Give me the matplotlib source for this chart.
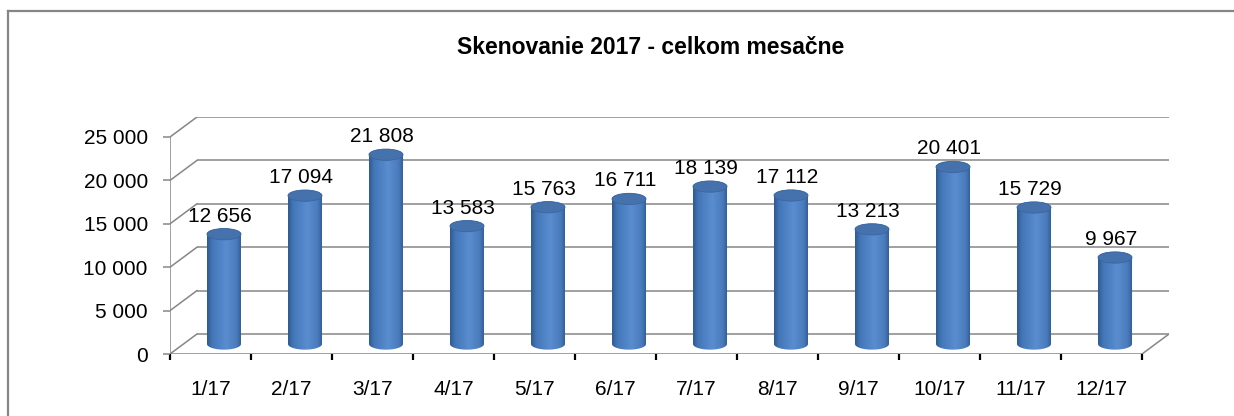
import numpy as np
import matplotlib.pyplot as plt
from matplotlib.patches import Ellipse, Polygon
from matplotlib.colors import LinearSegmentedColormap
from matplotlib.lines import Line2D

# ------------------------------------------------ data ------------------------------------------------
mesiace = ['1/17', '2/17', '3/17', '4/17', '5/17', '6/17', '7/17', '8/17', '9/17', '10/17', '11/17', '12/17']
skeny = [12656, 17094, 21808, 13583, 15763, 16711, 18139, 17112, 13213, 20401, 15729, 9967]
y_ticky = [0, 5000, 10000, 15000, 20000, 25000]
nadpis = 'Skenovanie 2017 - celkom mesačne'

# ------------------------------------------------ styl ------------------------------------------------
plt.rcParams['font.family'] = ['Liberation Sans', 'DejaVu Sans']
SIVA = '#868686'
DX = 0.333      # hlbka 3D v jednotkach kategorii
DY = 2304       # hlbka 3D v jednotkach hodnot
SIRKA = 0.42    # sirka valca
EH = 1300       # vyska elipsy valca

cyl_cmap = LinearSegmentedColormap.from_list(
    'valec', [(0.0, '#2E5A92'), (0.15, '#4477B8'), (0.55, '#5A8DD0'), (0.85, '#4A7BBC'), (1.0, '#2E5A92')])

fig = plt.figure(figsize=(12.34, 4.16), dpi=100)
ax = fig.add_axes([170 / 1234, (416 - 354) / 416, (1169 - 170) / 1234, (354 - 117) / 416])

n = len(mesiace)
x_min, x_max = -0.5, n - 0.5

# steny a mriezka
for v in y_ticky:
    ax.plot([x_min + DX, x_max + DX], [v + DY, v + DY], color=SIVA, lw=1.1, zorder=1, solid_capstyle='butt')
    ax.plot([x_min, x_min + DX], [v, v + DY], color=SIVA, lw=1.1, zorder=1)
ax.plot([x_min, x_min], [0, y_ticky[-1]], color=SIVA, lw=1.1, zorder=1)
ax.plot([x_min, x_max], [0, 0], color=SIVA, lw=1.1, zorder=1)
ax.plot([x_max, x_max + DX], [0, DY], color=SIVA, lw=1.1, zorder=1)

# valce
grad = np.linspace(0, 1, 200).reshape(1, -1)
t_dole = np.linspace(np.pi, 2 * np.pi, 60)
t_hore = np.linspace(0, np.pi, 60)
for i, v in enumerate(skeny):
    cx = i + DX / 2
    spodok = DY / 2
    vrch = v + DY / 2
    body = np.vstack([
        np.column_stack([cx + SIRKA / 2 * np.cos(t_dole), spodok + EH / 2 * np.sin(t_dole)]),
        np.column_stack([cx + SIRKA / 2 * np.cos(t_hore), vrch + EH / 2 * np.sin(t_hore)]),
    ])
    poly = Polygon(body, closed=True, facecolor='none', edgecolor='none', transform=ax.transData)
    ax.add_patch(poly)
    im = ax.imshow(grad, cmap=cyl_cmap, aspect='auto', zorder=3,
                   extent=[cx - SIRKA / 2, cx + SIRKA / 2, spodok - EH / 2, vrch + EH / 2])
    im.set_clip_path(poly)
    ax.add_patch(Ellipse((cx, vrch), SIRKA, EH, facecolor='#4572AD', edgecolor='#3A66A0', lw=0.6, zorder=4))
    ax.annotate(f'{v:,}'.replace(',', ' '), (cx, vrch), xytext=(-3, 9), textcoords='offset points',
                ha='center', va='baseline', fontsize=15, color='black', annotation_clip=False)

ax.set_xlim(x_min, x_max + DX)
ax.set_ylim(0, y_ticky[-1] + DY)

# osi
for s in ax.spines.values():
    s.set_visible(False)
ax.set_yticks(y_ticky)
ax.set_yticklabels([f'{t:,}'.replace(',', ' ') for t in y_ticky], fontsize=15)
ax.tick_params(axis='y', length=5, width=1.1, color=SIVA, pad=11)
ax.set_xticks(range(n))
ax.set_xticklabels(mesiace, fontsize=15)
ax.set_xticks(np.arange(x_min, x_max + 0.01, 1), minor=True)
ax.tick_params(axis='x', which='major', length=0, pad=19)
ax.tick_params(axis='x', which='minor', length=4.5, width=1.6, color='black')

# nadpis a ramcek
fig.text(651 / 1234, 1 - 48 / 416, nadpis, ha='center', va='center', fontsize=16.5, fontweight='bold')
fig.add_artist(Line2D([8 / 1234, 8 / 1234], [0, 1 - 11 / 416], color=SIVA, lw=1.6))
fig.add_artist(Line2D([8 / 1234, 1], [1 - 11 / 416, 1 - 11 / 416], color=SIVA, lw=1.6))

fig.savefig('out.png', dpi=100)
